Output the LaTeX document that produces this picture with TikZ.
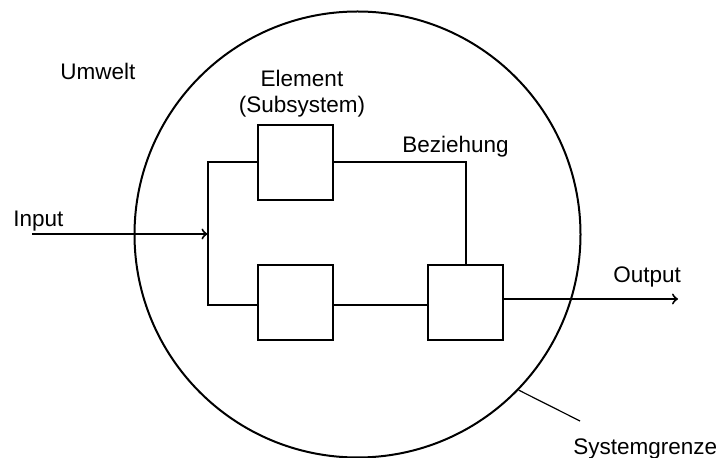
\documentclass[tikz,border=0pt]{standalone}
\usepackage{fontspec}
\setmainfont{Liberation Sans}
\begin{document}
\begin{tikzpicture}[x=0.5pt,y=-0.5pt,
  every node/.style={inner sep=0pt,font=\fontsize{11.25}{13}\selectfont},
  elem/.style={draw,line width=1pt,minimum size=37.5pt},
  rel/.style={line width=1pt},
  flow/.style={line width=1pt,->}]
\useasboundingbox (0,0) rectangle (722,458);
% system boundary
\node[draw,circle,line width=1pt,minimum size=223pt] (sys) at (357.5,234.5) {};
% elements
\node[elem] (e1) at (295,162.5) {};
\node[elem] (e2) at (295,302.5) {};
\node[elem] (e3) at (465.5,302.5) {};
\coordinate (bustop) at (207.5,162.5);
\coordinate (busbot) at (207.5,305);
% relations
\draw[rel] (e1.west) -- (bustop) -- (busbot) -- (e2.west |- busbot);
\draw[rel] (e1.east) -| (e3.north);
\draw[rel] (e2.east |- busbot) -- (e3.west |- busbot);
% input and output
\coordinate (in) at (32,234);
\coordinate (out) at (678,299);
\draw[flow] (in) -- (in -| bustop);
\draw[flow] (e3.east |- out) -- (out);
% labels
\node[anchor=base west] (umwelt) at (60,80) {Umwelt};
\node[anchor=base west] (input) at (13,226.7) {Input};
\node[anchor=base west] (output) at (613,283) {Output};
\node[anchor=base west] (bez) at (402,153) {Beziehung};
\node[align=center,anchor=north] (elabel) at (302,70) {Element\\(Subsystem)};
\node[anchor=base west] (grenze) at (573,455) {Systemgrenze};
\coordinate (tick) at (580,421);
\draw[line width=0.6pt] (sys.-44.5) -- (tick);
\end{tikzpicture}
\end{document}
